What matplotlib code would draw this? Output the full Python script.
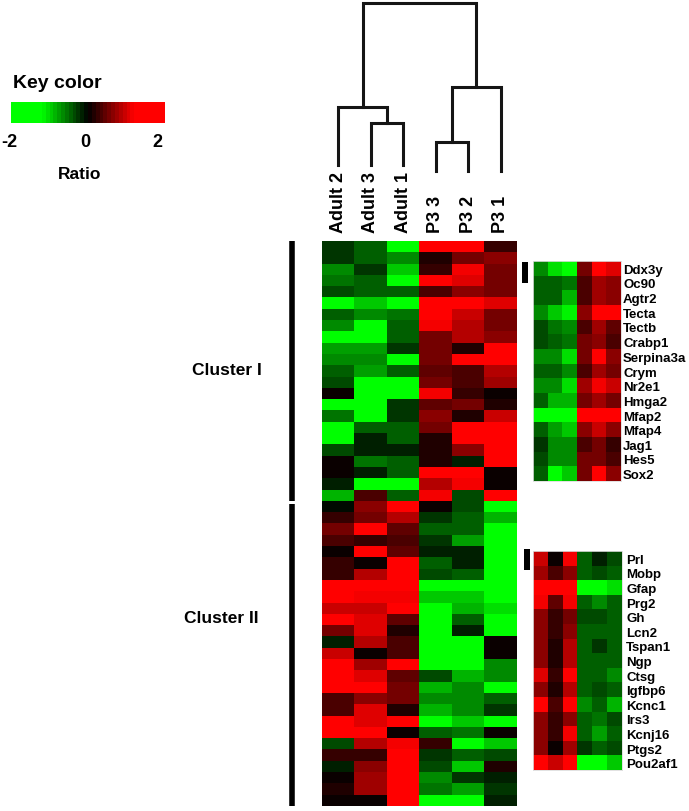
import numpy as np
import matplotlib
matplotlib.use('Agg')
import matplotlib.pyplot as plt
from matplotlib.colors import ListedColormap, BoundaryNorm
from matplotlib.patches import Rectangle
from matplotlib.cm import ScalarMappable

plt.rcParams['font.family'] = ['Liberation Sans', 'DejaVu Sans']
plt.rcParams['font.weight'] = 'bold'

W, H = 689, 812

samples = ['Adult 2', 'Adult 3', 'Adult 1', 'P3 3', 'P3 2', 'P3 1']

# log ratios, rows top to bottom
cluster1_vals = [
    [-0.2, -0.45, -1.5, 1.5, 1.5, 0.25],
    [-0.2, -0.5, -0.65, 0.2, 0.6, 0.7],
    [-0.65, -0.2, -0.9, 0.25, 1.1, 0.5],
    [-0.55, -0.4, -1.5, 1.5, 1.0, 0.5],
    [-0.35, -0.45, -0.4, 0.4, 0.7, 0.55],
    [-1.5, -0.95, -1.5, 1.5, 1.5, 1.0],
    [-0.5, -0.65, -0.55, 1.5, 0.95, 0.55],
    [-0.65, -1.5, -0.45, 1.2, 0.9, 0.55],
    [-1.5, -1.5, -0.45, 0.5, 0.9, 0.65],
    [-0.75, -0.75, -0.25, 0.6, 0.2, 1.5],
    [-0.65, -0.7, -1.5, 0.6, 1.5, 1.5],
    [-0.4, -0.75, -0.4, 0.45, 0.4, 0.85],
    [-0.3, -1.5, -1.5, 0.5, 0.35, 0.8],
    [0.0, -1.5, -1.5, 1.2, 0.3, 0.1],
    [-1.5, -1.5, -0.2, 0.45, 0.6, 0.2],
    [-0.55, -1.5, -0.2, 0.7, 0.15, 0.95],
    [-1.5, -0.5, -0.45, 0.55, 1.5, 1.5],
    [-1.5, -0.15, -0.45, 0.2, 1.5, 1.5],
    [-0.3, -0.15, -0.1, 0.2, 0.65, 1.5],
    [0.1, -0.55, -0.5, 0.15, -0.15, 1.5],
    [0.05, -0.15, -0.4, 1.5, 1.5, 0.1],
    [-0.1, -1.4, -1.5, 0.9, 1.2, 0.1],
    [-0.8, 0.4, -0.45, 1.1, -0.35, 1.5],
]
cluster2_vals = [
    [-0.05, 0.65, 1.5, 0.05, -0.35, -1.5],
    [0.3, 0.55, 0.9, -0.25, -0.4, -0.85],
    [0.5, 1.5, 0.45, -0.5, -0.4, -1.5],
    [0.35, 0.3, 0.4, -0.25, -0.75, -1.5],
    [0.1, 1.5, 0.45, -0.15, -0.1, -1.5],
    [0.3, 0.1, 1.5, -0.4, -0.15, -1.5],
    [0.3, 0.85, 1.5, -0.3, -0.45, -1.5],
    [1.5, 1.5, 1.5, -1.5, -1.5, -1.5],
    [1.5, 1.1, 1.15, -1.0, -1.0, -1.5],
    [0.95, 0.95, 1.5, -1.4, -0.8, -1.1],
    [1.5, 1.0, 0.45, -1.5, -0.4, -1.5],
    [0.6, 1.0, 0.2, -1.5, -0.15, -1.5],
    [-0.15, 0.9, 0.4, -1.5, -1.5, 0.05],
    [0.95, 0.05, 0.4, -1.5, -1.5, 0.05],
    [1.5, 0.8, 1.5, -1.5, -1.5, -0.6],
    [1.5, 1.05, 0.45, -0.35, -0.85, -0.6],
    [1.5, 1.5, 0.6, -0.85, -0.7, -1.5],
    [0.35, 0.65, 0.5, -0.7, -0.7, -0.4],
    [0.35, 1.0, 0.2, -0.85, -0.7, -0.2],
    [1.5, 1.05, 1.5, -1.5, -0.9, -1.5],
    [1.5, 1.5, 0.0, -0.45, -0.55, 0.0],
    [-0.3, 0.9, 1.2, 0.3, -1.5, -1.0],
    [0.25, 0.3, 1.5, -0.25, -0.4, -0.3],
    [-0.15, 0.7, 1.5, -0.3, -0.9, 0.15],
    [0.1, 0.75, 1.5, -0.65, -0.2, -0.1],
    [0.2, 0.8, 1.5, -0.55, -0.75, -0.2],
    [0.1, 0.1, 1.5, -1.5, -1.5, -0.15],
]

genes1 = ['Ddx3y', 'Oc90', 'Agtr2', 'Tecta', 'Tectb', 'Crabp1', 'Serpina3a',
          'Crym', 'Nr2e1', 'Hmga2', 'Mfap2', 'Mfap4', 'Jag1', 'Hes5', 'Sox2']
genes1_vals = [
    [-0.7, -1.1, -1.3, 0.6, 1.5, 1.0],
    [-0.4, -0.45, -0.55, 0.4, 0.75, 0.65],
    [-0.4, -0.4, -0.8, 0.35, 0.8, 0.65],
    [-0.65, -0.9, -1.2, 0.7, 1.5, 1.5],
    [-0.35, -0.55, -0.7, 0.4, 0.8, 0.45],
    [-0.35, -0.4, -0.55, 0.5, 0.7, 0.35],
    [-0.6, -0.65, -1.1, 0.6, 1.5, 0.7],
    [-0.4, -0.4, -0.6, 0.4, 0.8, 0.5],
    [-0.65, -0.7, -1.1, 0.75, 1.2, 0.95],
    [-0.45, -0.8, -0.8, 0.55, 0.75, 0.6],
    [-1.5, -1.5, -1.4, 1.5, 1.5, 1.5],
    [-0.45, -0.75, -1.0, 0.65, 0.95, 0.65],
    [-0.25, -0.65, -0.6, 0.35, 0.5, 0.25],
    [-0.3, -0.65, -0.65, 0.55, 0.6, 0.35],
    [-0.5, -1.5, -1.0, 0.6, 1.5, 0.7],
]

genes2 = ['Prl', 'Mobp', 'Gfap', 'Prg2', 'Gh', 'Lcn2', 'Tspan1', 'Ngp', 'Ctsg',
          'Igfbp6', 'Kcnc1', 'Irs3', 'Kcnj16', 'Ptgs2', 'Pou2af1']
genes2_vals = [
    [0.95, 0.1, 1.15, -0.4, -0.1, -0.35],
    [0.75, 0.35, 0.7, -0.5, -0.35, -0.4],
    [1.5, 1.5, 1.5, -1.5, -1.5, -1.1],
    [1.15, 0.45, 1.15, -0.45, -0.6, -0.5],
    [0.7, 0.25, 0.6, -0.3, -0.35, -0.4],
    [0.65, 0.3, 0.65, -0.5, -0.4, -0.4],
    [0.65, 0.2, 0.85, -0.45, -0.25, -0.4],
    [0.7, 0.2, 0.9, -0.5, -0.4, -0.4],
    [1.0, 0.25, 1.5, -0.45, -0.4, -0.65],
    [0.65, 0.2, 0.9, -0.45, -0.35, -0.5],
    [1.5, 0.35, 1.5, -0.6, -0.4, -0.85],
    [0.7, 0.25, 0.7, -0.4, -0.55, -0.3],
    [0.7, 0.3, 1.1, -0.4, -0.75, -0.45],
    [0.65, 0.1, 0.8, -0.2, -0.45, -0.3],
    [1.5, 0.95, 1.5, -1.5, -1.5, -0.95],
]

# dendrogram: leaf heights, then merges (left node, right node, height)
leaf_h = [0.036, 0.036, 0.036, 0.0, 0.0, 0.0]
merges = [(1, 2, 0.286), (0, 6, 0.379), (3, 4, 0.174), (8, 5, 0.502), (7, 9, 1.0)]


def box(x0, y0, x1, y1):
    # pixel box (top-left origin) -> figure fraction rect
    return [x0 / W, 1 - y1 / H, (x1 - x0) / W, (y1 - y0) / H]


# stepped green-black-red key, saturating around +/-1.2
bounds = np.linspace(-2, 2, 41)
centers = (bounds[:-1] + bounds[1:]) / 2
cols = []
for c in centers:
    k = min(abs(c) / 1.2, 1.0)
    cols.append((0, k, 0) if c < 0 else (k, 0, 0))
cmap = ListedColormap(cols)
norm = BoundaryNorm(bounds, cmap.N)

fig = plt.figure(figsize=(W / 100, H / 100), dpi=100)

# main heatmap
main = np.array(cluster1_vals + cluster2_vals)
ax = fig.add_axes(box(322, 242, 517, 807))
ax.imshow(main, aspect='auto', interpolation='nearest', cmap=cmap, norm=norm)
ax.set_xticks(range(len(samples)))
ax.set_xticklabels(samples, rotation=90, fontsize=13, fontweight='bold')
ax.xaxis.tick_top()
ax.tick_params(axis='x', length=0, pad=6.5)
ax.set_yticks([])
for s in ax.spines.values():
    s.set_visible(False)

# cluster bars (left of the heatmap, outside the axes)
n1 = len(cluster1_vals)
bx = -0.5 - 30 / 32.5
ax.plot([bx, bx], [-0.5, n1 - 0.45], color='black', lw=4, solid_capstyle='butt', clip_on=False)
ax.plot([bx, bx], [n1 - 0.2, len(main) - 0.5], color='black', lw=4, solid_capstyle='butt', clip_on=False)
ax.set_xlim(-0.5, len(samples) - 0.5)
ax.set_ylim(len(main) - 0.5, -0.5)
fig.text(262 / W, 1 - 375 / H, 'Cluster I', ha='right', va='baseline', fontsize=12.5, fontweight='bold')
fig.text(259 / W, 1 - 623 / H, 'Cluster II', ha='right', va='baseline', fontsize=12.5, fontweight='bold')

# dendrogram
axd = fig.add_axes(box(322, 4, 517, 172))
axd.set_xlim(-0.5, 5.5)
axd.set_ylim(0, 1)
axd.axis('off')
xs = list(range(len(samples)))
hs = list(leaf_h)
for a, b, h in merges:
    axd.plot([xs[a], xs[a], xs[b], xs[b]], [hs[a], h, h, hs[b]], color='#151515', lw=2.2,
             solid_joinstyle='miter', clip_on=False)
    xs.append((xs[a] + xs[b]) / 2)
    hs.append(h)

# gene insets
for rect, vals, genes, lx in [((533, 262, 621, 482), genes1_vals, genes1, 623),
                              ((533, 552, 622, 771), genes2_vals, genes2, 626)]:
    axi = fig.add_axes(box(*rect))
    axi.imshow(np.array(vals), aspect='auto', interpolation='nearest', cmap=cmap, norm=norm)
    axi.set_xticks([])
    axi.yaxis.tick_right()
    axi.set_yticks(range(len(genes)))
    axi.set_yticklabels(genes, fontsize=9.5, fontweight='bold')
    axi.tick_params(axis='y', length=0, pad=(lx - rect[2]) * 0.72)
    for s in axi.spines.values():
        s.set_edgecolor('#dddddd')
        s.set_linewidth(0.6)

# little black markers next to the insets
fig.add_artist(Rectangle((522 / W, 1 - 284 / H), 6 / W, 21 / H, transform=fig.transFigure,
                         facecolor='black', edgecolor='none'))
fig.add_artist(Rectangle((524 / W, 1 - 571 / H), 6 / W, 21 / H, transform=fig.transFigure,
                         facecolor='black', edgecolor='none'))

# key color
fig.text(13 / W, 1 - 88 / H, 'Key color', ha='left', va='baseline', fontsize=14, fontweight='bold')
cax = fig.add_axes(box(11, 103, 165, 124))
cb = fig.colorbar(ScalarMappable(norm=norm, cmap=cmap), cax=cax, orientation='horizontal')
cb.outline.set_visible(False)
cb.set_ticks([])
cax.minorticks_off()
cax.tick_params(which='both', length=0, labelbottom=False)
for t, x in [('-2', 9), ('0', 85), ('2', 157)]:
    fig.text(x / W, 1 - 147 / H, t, ha='center', va='baseline', fontsize=13, fontweight='bold')
fig.text(80 / W, 1 - 179 / H, 'Ratio', ha='center', va='baseline', fontsize=12.5, fontweight='bold')

fig.savefig('out.png', dpi=100)
